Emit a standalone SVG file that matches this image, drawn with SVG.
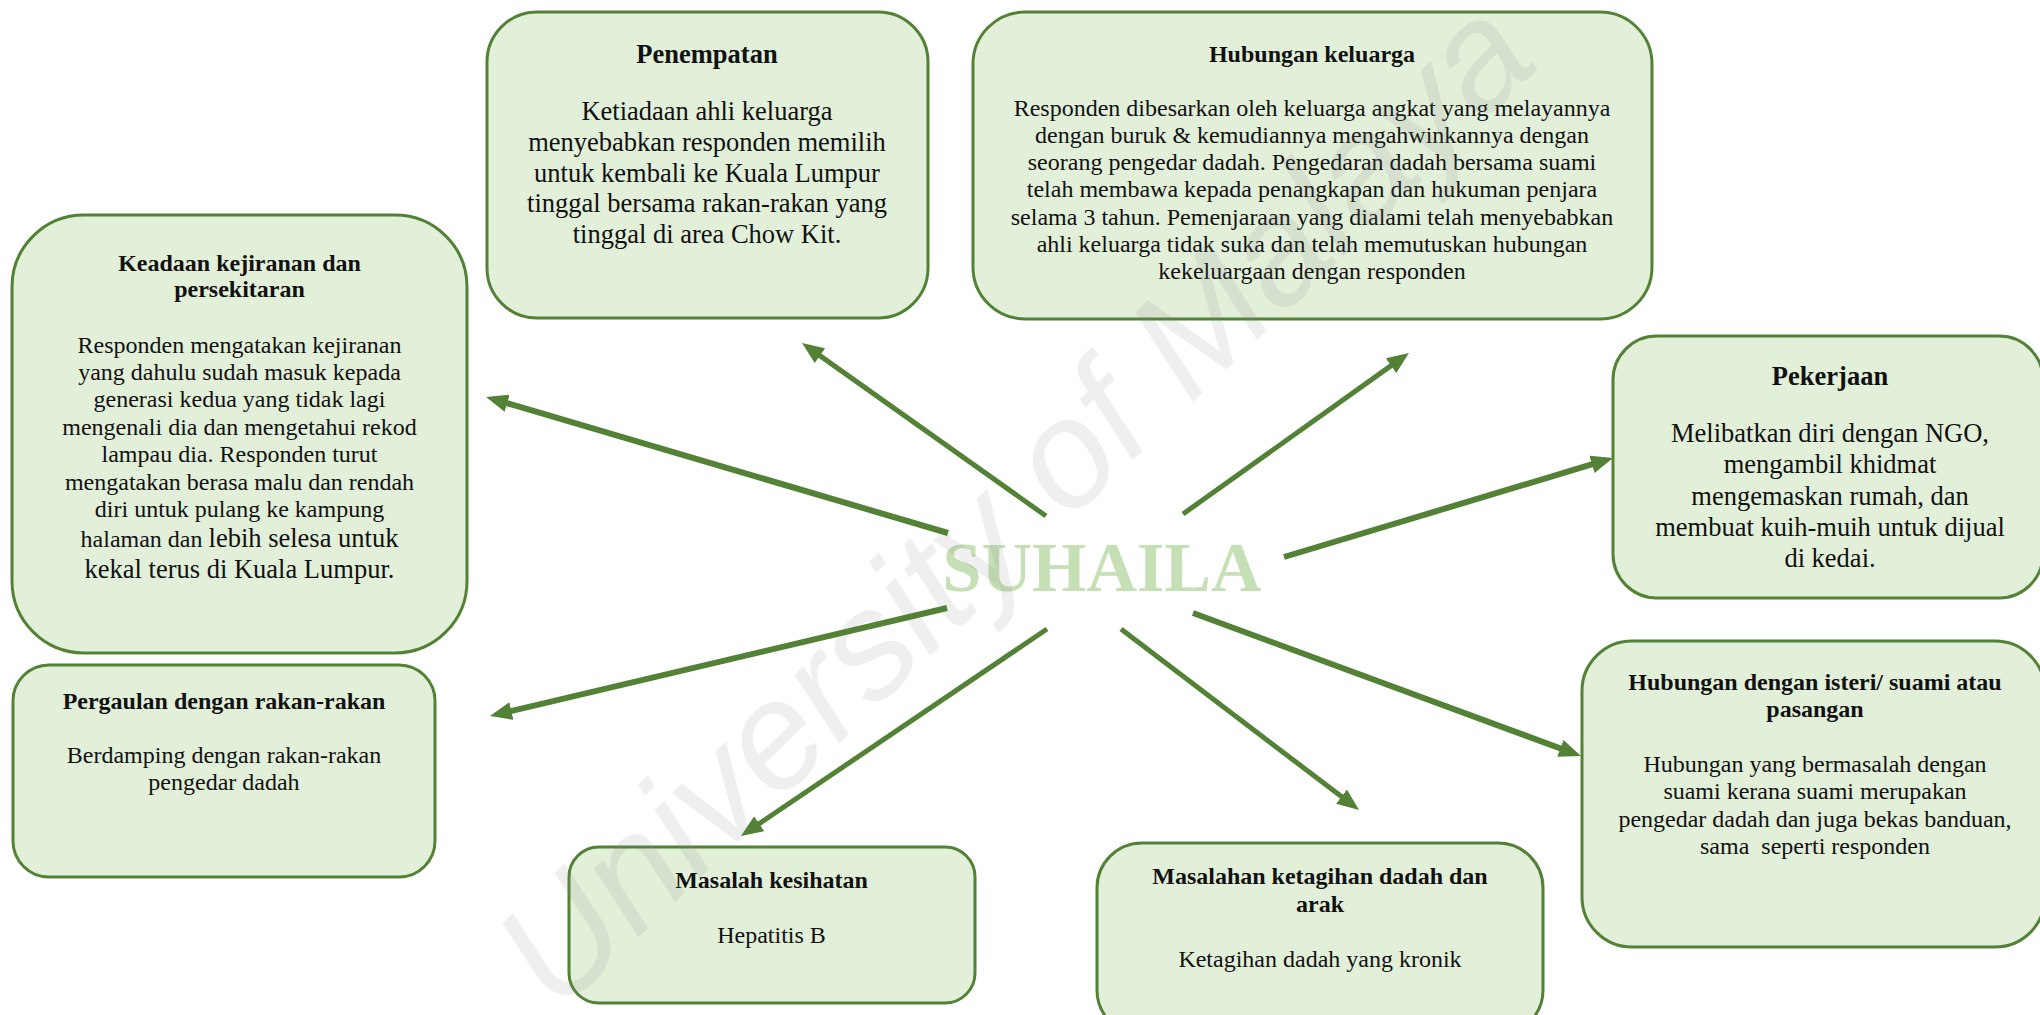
<svg xmlns="http://www.w3.org/2000/svg" width="2040" height="1015" viewBox="0 0 2040 1015">
<style>
.box{fill:#e2efd9;stroke:#538135;stroke-width:3}
.t{font-family:"Liberation Serif","Times New Roman",serif;fill:#111;text-anchor:middle}
.b{font-weight:bold}
.s24{font-size:24px}
.s26{font-size:26.5px}
.con line{stroke:#538135;fill:none}
.wm{font-family:"Liberation Sans",Arial,sans-serif;font-style:italic;font-size:152px;fill:#808080;fill-opacity:0.13}
</style>
<defs>
<marker id="ah" markerUnits="userSpaceOnUse" markerWidth="22" markerHeight="18" refX="4" refY="9" orient="auto">
<path d="M0,0 L22,9 L0,18 z" fill="#538135"/>
</marker>
</defs>
<rect width="2040" height="1015" fill="#fff"/>

<g id="penempatan">
<rect class="box" x="487" y="12" width="441" height="306" rx="50"/>
<text class="t b s26" x="707" y="63">Penempatan</text>
<text class="t s26" x="707" y="120">Ketiadaan ahli keluarga</text>
<text class="t s26" x="707" y="151">menyebabkan responden memilih</text>
<text class="t s26" x="707" y="182">untuk kembali ke Kuala Lumpur</text>
<text class="t s26" x="707" y="212">tinggal bersama rakan-rakan yang</text>
<text class="t s26" x="707" y="243">tinggal di area Chow Kit.</text>
</g>

<g id="hubungan-keluarga">
<rect class="box" x="973" y="12" width="679" height="307" rx="52"/>
<text class="t b s24" x="1312" y="62">Hubungan keluarga</text>
<text class="t s24" x="1312" y="116">Responden dibesarkan oleh keluarga angkat yang melayannya</text>
<text class="t s24" x="1312" y="143">dengan buruk &amp; kemudiannya mengahwinkannya dengan</text>
<text class="t s24" x="1312" y="170">seorang pengedar dadah. Pengedaran dadah bersama suami</text>
<text class="t s24" x="1312" y="197">telah membawa kepada penangkapan dan hukuman penjara</text>
<text class="t s24" x="1312" y="225">selama 3 tahun. Pemenjaraan yang dialami telah menyebabkan</text>
<text class="t s24" x="1312" y="252">ahli keluarga tidak suka dan telah memutuskan hubungan</text>
<text class="t s24" x="1312" y="279">kekeluargaan dengan responden</text>
</g>

<g id="keadaan">
<rect class="box" x="12" y="215" width="455" height="438" rx="72"/>
<text class="t b s24" x="239.5" y="271">Keadaan kejiranan dan</text>
<text class="t b s24" x="239.5" y="297">persekitaran</text>
<text class="t s24" x="239.5" y="353">Responden mengatakan kejiranan</text>
<text class="t s24" x="239.5" y="380">yang dahulu sudah masuk kepada</text>
<text class="t s24" x="239.5" y="407">generasi kedua yang tidak lagi</text>
<text class="t s24" x="239.5" y="435">mengenali dia dan mengetahui rekod</text>
<text class="t s24" x="239.5" y="462">lampau dia. Responden turut</text>
<text class="t s24" x="239.5" y="490">mengatakan berasa malu dan rendah</text>
<text class="t s24" x="239.5" y="517">diri untuk pulang ke kampung</text>
<text class="t s24" x="239.5" y="547">halaman dan <tspan font-size="26.5">lebih selesa untuk</tspan></text>
<text class="t s26" x="239.5" y="578">kekal terus di Kuala Lumpur.</text>
</g>

<g id="pekerjaan">
<rect class="box" x="1613" y="336" width="430" height="262" rx="44"/>
<text class="t b s26" x="1830" y="385">Pekerjaan</text>
<text class="t s26" x="1830" y="442">Melibatkan diri dengan NGO,</text>
<text class="t s26" x="1830" y="473">mengambil khidmat</text>
<text class="t s26" x="1830" y="504.5">mengemaskan rumah, dan</text>
<text class="t s26" x="1830" y="536">membuat kuih-muih untuk dijual</text>
<text class="t s26" x="1830" y="567">di kedai.</text>
</g>

<g id="hubungan-pasangan">
<rect class="box" x="1582" y="641" width="463" height="306" rx="50"/>
<text class="t b s24" x="1815" y="690">Hubungan dengan isteri/ suami atau</text>
<text class="t b s24" x="1815" y="717">pasangan</text>
<text class="t s24" x="1815" y="772">Hubungan yang bermasalah dengan</text>
<text class="t s24" x="1815" y="799">suami kerana suami merupakan</text>
<text class="t s24" x="1815" y="827">pengedar dadah dan juga bekas banduan,</text>
<text class="t s24" x="1815" y="854">sama&#160; seperti responden</text>
</g>

<g id="pergaulan">
<rect class="box" x="13" y="665" width="422" height="212" rx="36"/>
<text class="t b s24" x="224" y="709">Pergaulan dengan rakan-rakan</text>
<text class="t s24" x="224" y="763">Berdamping dengan rakan-rakan</text>
<text class="t s24" x="224" y="790">pengedar dadah</text>
</g>

<g id="kesihatan">
<rect class="box" x="569" y="847" width="406" height="156" rx="30"/>
<text class="t b s24" x="771.5" y="888">Masalah kesihatan</text>
<text class="t s24" x="771.5" y="943">Hepatitis B</text>
</g>

<g id="ketagihan">
<rect class="box" x="1097" y="843" width="446" height="192" rx="45"/>
<text class="t b s24" x="1320" y="884">Masalahan ketagihan dadah dan</text>
<text class="t b s24" x="1320" y="912">arak</text>
<text class="t s24" x="1320" y="967">Ketagihan dadah yang kronik</text>
</g>

<g id="suhaila">
<text x="1102" y="591" font-family="'Liberation Serif','Times New Roman',serif" font-weight="bold" font-size="70" fill="#c5e0b4" text-anchor="middle">SUHAILA</text>
</g>

<text class="wm" x="1050" y="540" text-anchor="middle" transform="rotate(-44 1050 540)">University of Malaya</text>

<g id="connectors" class="con">
<line x1="1046" y1="516" x2="816.7" y2="353.4" stroke-width="5" marker-end="url(#ah)"/>
<line x1="948" y1="533" x2="503.3" y2="402.1" stroke-width="6" marker-end="url(#ah)"/>
<line x1="1183" y1="514" x2="1394.3" y2="363.4" stroke-width="5" marker-end="url(#ah)"/>
<line x1="1284" y1="557" x2="1595.8" y2="463.2" stroke-width="6" marker-end="url(#ah)"/>
<line x1="947" y1="608" x2="507.5" y2="711.9" stroke-width="6" marker-end="url(#ah)"/>
<line x1="1047" y1="629" x2="755.9" y2="825.9" stroke-width="5" marker-end="url(#ah)"/>
<line x1="1121" y1="629" x2="1344.7" y2="799.1" stroke-width="5" marker-end="url(#ah)"/>
<line x1="1193" y1="613" x2="1564.1" y2="749.8" stroke-width="6" marker-end="url(#ah)"/>
</g>
</svg>
